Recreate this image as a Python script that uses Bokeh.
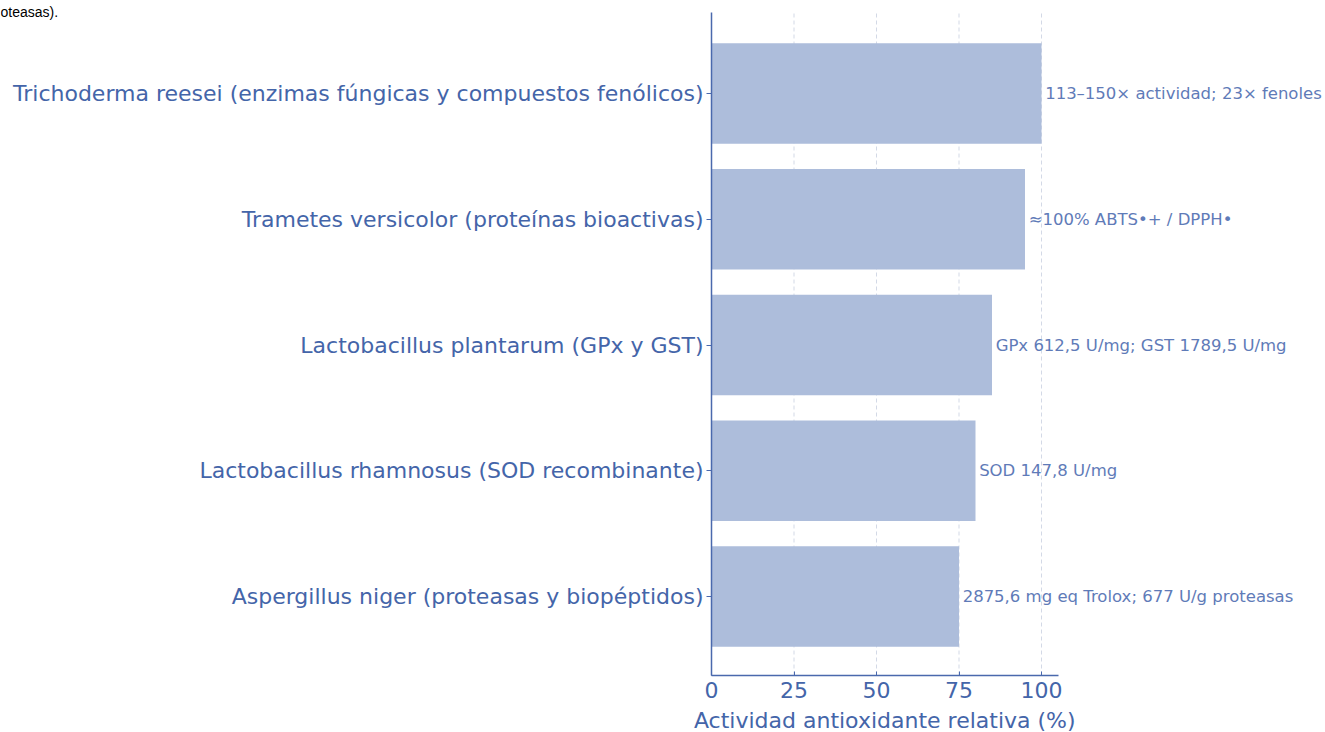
from bokeh.plotting import figure
from bokeh.models import Range1d, FixedTicker, ColumnDataSource
from bokeh.embed import file_html
from bokeh.resources import INLINE
from bokeh.core.properties import value

# ---- data (bottom to top) ----
categories = [
    "Aspergillus niger (proteasas y biopéptidos)",
    "Lactobacillus rhamnosus (SOD recombinante)",
    "Lactobacillus plantarum (GPx y GST)",
    "Trametes versicolor (proteínas bioactivas)",
    "Trichoderma reesei (enzimas fúngicas y compuestos fenólicos)",
]
values = [75, 80, 85, 95, 100]
notes = [
    "2875,6 mg eq Trolox; 677 U/g proteasas",
    "SOD 147,8 U/mg",
    "GPx 612,5 U/mg; GST 1789,5 U/mg",
    "≈100% ABTS•+ / DPPH•",
    "113–150× actividad; 23× fenoles",
]
x_ticks = [0, 25, 50, 75, 100]
x_max = 105
x_label = "Actividad antioxidante relativa (%)"
top_text = "oteasas)."

FONT = "DejaVu Sans"
AXIS_COLOR = "#4a69ad"
LABEL_COLOR = "#4465a9"
NOTE_COLOR = "#5f7bb8"
BAR_COLOR = "#adbddb"

# ---- layout helpers (pixel <-> data) ----
W, H = 1325, 732
X0_PX, PX_PER_X = 711, 3.3          # x=0 at 711 px, 3.3 px per unit
Y0_PX, PX_PER_Y = 596, 125.75       # first category at 596 px, 125.75 px per category


def dx(px):
    return (px - X0_PX) / PX_PER_X


def dy(py):
    return (Y0_PX - py) / PX_PER_Y


AX_TOP, AX_BOTTOM = dy(12), dy(675)

positions = list(range(len(categories)))
source = ColumnDataSource(dict(
    pos=positions,
    val=values,
    note=notes,
    note_x=[v + 1.1 for v in values],
))

p = figure(
    width=W, height=H,
    output_backend="svg", toolbar_location=None,
    x_range=Range1d(dx(0), dx(W)), y_range=Range1d(dy(H), dy(0)),
    min_border_left=0, min_border_right=0,
    min_border_top=0, min_border_bottom=0,
)
p.outline_line_color = None
p.background_fill_color = "white"
p.border_fill_color = "white"
p.xgrid.grid_line_color = None
p.ygrid.grid_line_color = None

# dashed vertical grid lines at the x ticks
p.segment(x0=x_ticks, x1=x_ticks, y0=[AX_BOTTOM] * len(x_ticks),
          y1=[AX_TOP] * len(x_ticks), line_color="#d3d9e6",
          line_dash="4 3", line_width=1)

p.hbar(y="pos", left=0, right="val", height=0.8, source=source,
       fill_color=BAR_COLOR, line_color=None)

p.text(x="note_x", y="pos", text="note", source=source,
       text_font=value(FONT), text_font_size="16.5px",
       text_color=NOTE_COLOR, text_baseline="middle", text_align="left")

# x axis
xa = p.xaxis[0]
xa.fixed_location = AX_BOTTOM
xa.bounds = (0, x_max)
xa.ticker = FixedTicker(ticks=x_ticks)
xa.axis_line_color = AXIS_COLOR
xa.axis_line_width = 1.5
xa.major_tick_line_color = AXIS_COLOR
xa.major_tick_in = 4
xa.major_tick_out = 0
xa.minor_tick_line_color = None
xa.major_label_text_font = FONT
xa.major_label_text_font_size = "22px"
xa.major_label_text_color = LABEL_COLOR
xa.major_label_standoff = 6

p.text(x=[x_max / 2], y=[dy(720)], text=[x_label],
       text_font=value(FONT), text_font_size="22px",
       text_color=LABEL_COLOR, text_baseline="middle", text_align="center")

# y axis
ya = p.yaxis[0]
ya.fixed_location = 0
ya.bounds = (AX_BOTTOM, AX_TOP)
ya.ticker = FixedTicker(ticks=positions)
ya.major_label_overrides = {i: c for i, c in zip(positions, categories)}
ya.axis_line_color = AXIS_COLOR
ya.axis_line_width = 1.5
ya.major_tick_line_color = AXIS_COLOR
ya.major_tick_in = 0
ya.major_tick_out = 5
ya.minor_tick_line_color = None
ya.major_label_text_font = FONT
ya.major_label_text_font_size = "22px"
ya.major_label_text_color = LABEL_COLOR
ya.major_label_standoff = 3

# text from the surrounding document, at the top-left corner
p.text(x=[dx(0)], y=[dy(11)], text=[top_text],
       text_font=value("Liberation Sans"), text_font_size="14px",
       text_color="black", text_baseline="alphabetic", text_align="left")

open("out.html", "w").write(file_html(p, INLINE))
